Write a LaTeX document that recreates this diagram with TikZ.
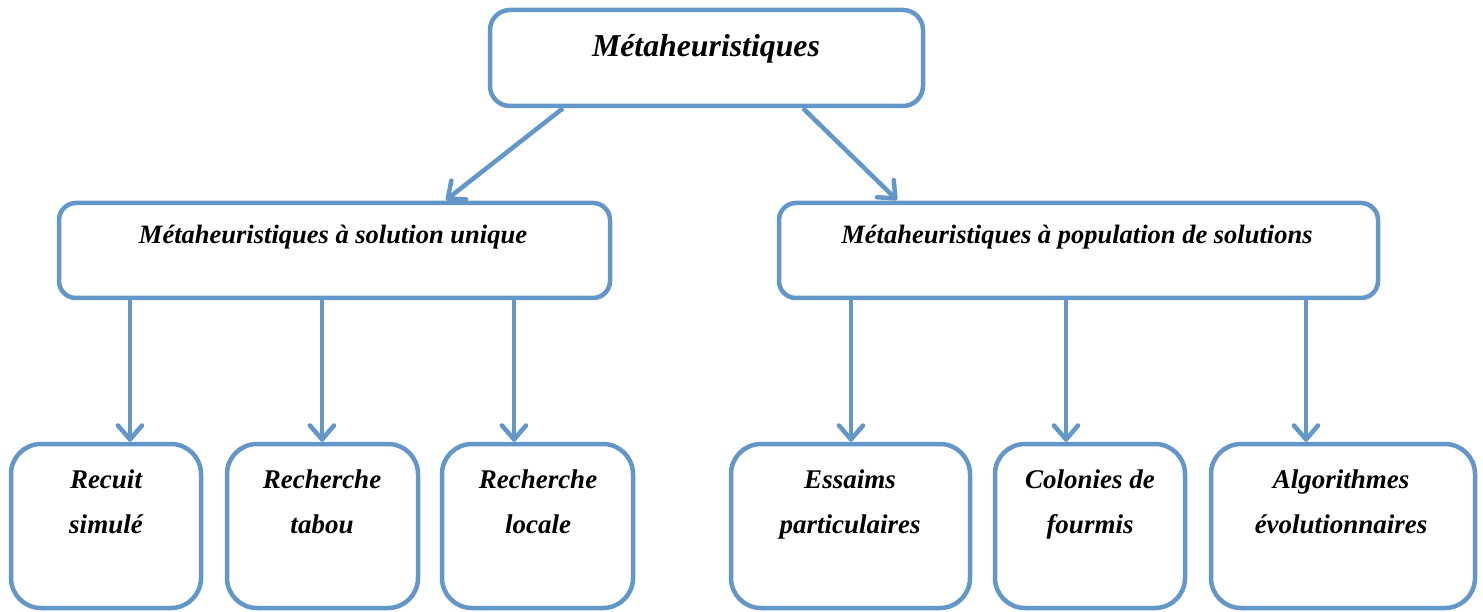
\documentclass[tikz,border=0pt]{standalone}
\usepackage{fontspec}
\setmainfont{Liberation Serif}
\usetikzlibrary{arrows.meta,calc}
\definecolor{boxblue}{RGB}{99,150,201}
\begin{document}
\begin{tikzpicture}[x=1pt,y=-1pt,
  box/.style={draw=boxblue,line width=4.5pt,fill=white,inner sep=0pt},
  topbox/.style={box,rounded corners=20pt,minimum width=433pt,minimum height=96pt},
  midbox/.style={box,rounded corners=17pt,minimum height=95pt},
  leafbox/.style={box,rounded corners=30pt,minimum height=164pt},
  txt/.style={font=\bfseries\itshape,inner sep=0pt,anchor=base},
  midtxt/.style={txt,font=\fontsize{26.5}{30}\selectfont\bfseries\itshape},
  leaftxt/.style={txt,font=\fontsize{27}{45}\selectfont\bfseries\itshape,align=center,anchor=north},
  arr/.style={draw=boxblue,line width=4.5pt,-{Straight Barb[length=14pt,width=24pt,line cap=round,line join=round]}}
]
\useasboundingbox (0,0) rectangle (1483,612);

% boxes
\node[topbox] (top) at (706.5,58) {};
\node[midbox,minimum width=551pt] (midL) at (334.5,250.5) {};
\node[midbox,minimum width=599pt] (midR) at (1078.5,250.5) {};
\node[leafbox,minimum width=190pt] (b1) at (106,526) {};
\node[leafbox,minimum width=191pt] (b2) at (322.5,526) {};
\node[leafbox,minimum width=191pt] (b3) at (537.5,526) {};
\node[leafbox,minimum width=239pt] (b4) at (850.5,526) {};
\node[leafbox,minimum width=190pt] (b5) at (1090,526) {};
\node[leafbox,minimum width=264pt] (b6) at (1343,526) {};

% texts
\node[txt,font=\fontsize{31.8}{36}\selectfont\bfseries\itshape] (ttop) at (706,57) {Métaheuristiques};
\node[midtxt] (tmidL) at (333,244) {Métaheuristiques à solution unique};
\node[midtxt] (tmidR) at (1077,244) {Métaheuristiques à population de solutions};
\node[leaftxt] (t1) at (106,470) {Recuit\\simulé};
\node[leaftxt] (t2) at (322,470) {Recherche\\tabou};
\node[leaftxt] (t3) at (538,470) {Recherche\\locale};
\node[leaftxt] (t4) at (850,470) {Essaims\\particulaires};
\node[leaftxt] (t5) at (1090,470) {Colonies de\\fourmis};
\node[leaftxt] (t6) at (1341,470) {Algorithmes\\évolutionnaires};

% connector x positions
\coordinate (dl) at (563,0);
\coordinate (dr) at (803,0);
\coordinate (el) at (446,200);
\coordinate (er) at (897,200);
\coordinate (x1) at (130,0);
\coordinate (x2) at (322,0);
\coordinate (x3) at (514,0);
\coordinate (x4) at (851,0);
\coordinate (x5) at (1066,0);
\coordinate (x6) at (1306,0);

% connectors
\draw[arr] (top.south -| dl) -- (el);
\draw[arr] (top.south -| dr) -- (er);
\draw[arr] (midL.south -| x1) -- (b1.north -| x1);
\draw[arr] (midL.south -| x2) -- (b2.north -| x2);
\draw[arr] (midL.south -| x3) -- (b3.north -| x3);
\draw[arr] (midR.south -| x4) -- (b4.north -| x4);
\draw[arr] (midR.south -| x5) -- (b5.north -| x5);
\draw[arr] (midR.south -| x6) -- (b6.north -| x6);
\end{tikzpicture}
\end{document}
